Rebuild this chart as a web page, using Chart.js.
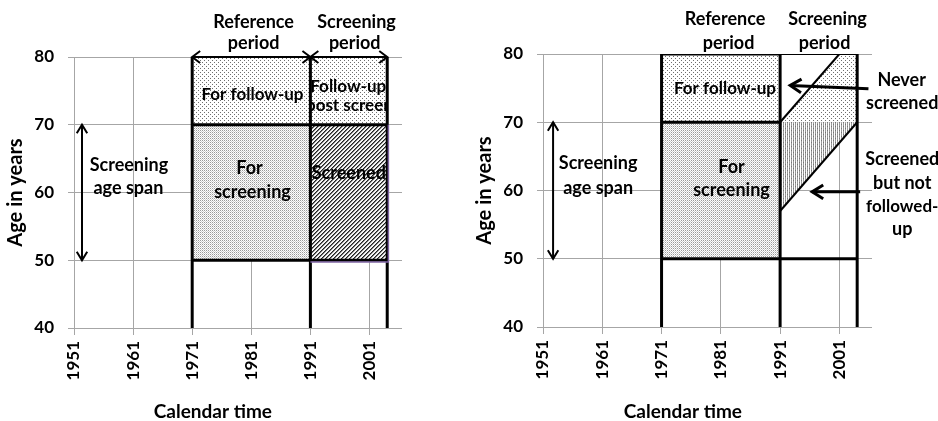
<!DOCTYPE html>
<html>
<head>
<meta charset="utf-8">
<script src="https://cdn.jsdelivr.net/npm/chart.js"></script>
<style>
  html, body { margin: 0; padding: 0; background: #fff; }
  .panel { position: absolute; top: 0; width: 469px; height: 421px; }
</style>
</head>
<body>
<div class="panel" style="left:0"><canvas id="left" width="469" height="421"></canvas></div>
<div class="panel" style="left:469px"><canvas id="right" width="469" height="421"></canvas></div>

<script>
// axis ticks and ranges
const yearTicks = [1951, 1961, 1971, 1981, 1991, 2001];
const ageTicks = [40, 50, 60, 70, 80];
const yearRange = [1951, 2006.5];

// study design: reference start, screening start, end of follow-up
const periodYears = [1971, 1991, 2004];
// screening age span and top of follow-up
const spanAges = [50, 70];
const topAge = 80;
// birth cohort lines in the screening period (right panel)
const neverCohort = [[1991, 70], [2001, 80]];
const notFollowedCohort = [[1991, 57], [2004, 70]];

const [refStart, scrStart, scrEnd] = periodYears;
const [ageLow, ageHigh] = spanAges;
const bottomAge = ageTicks[0];

function rect(x0, x1, y0, y1) {
  return [[x0, y0], [x1, y0], [x1, y1], [x0, y1]];
}

const FONT = 'Lato, "Open Sans", sans-serif';

function makePatterns(ctx) {
  function pat(w, h, bg, draw) {
    const c = document.createElement('canvas');
    c.width = w; c.height = h;
    const g = c.getContext('2d');
    if (bg) { g.fillStyle = bg; g.fillRect(0, 0, w, h); }
    draw(g);
    return ctx.createPattern(c, 'repeat');
  }
  return {
    sparse: pat(4, 4, '#fff', g => {
      g.fillStyle = '#6e6e6e';
      g.fillRect(0, 0, 1, 1);
      g.fillRect(2, 2, 1, 1);
    }),
    dense: pat(2, 2, '#fff', g => {
      g.fillStyle = '#9a9a9a';
      g.fillRect(0, 0, 1, 1);
      g.fillStyle = '#cfcfcf';
      g.fillRect(1, 1, 1, 1);
    }),
    diag: pat(4, 4, '#f4f4f4', g => {
      for (let i = 0; i < 4; i++) {
        g.fillStyle = '#222';
        g.fillRect(i, 3 - i, 1, 1);
        g.fillStyle = '#777';
        g.fillRect(i, (4 - i) % 4, 1, 1);
      }
    }),
    vert: pat(2, 1, null, g => {
      g.fillStyle = 'rgba(120,120,120,0.75)';
      g.fillRect(0, 0, 1, 1);
    })
  };
}

function drawArrow(ctx, x1, y1, x2, y2, both, width, len, ang) {
  ctx.save();
  ctx.strokeStyle = '#000';
  ctx.lineWidth = width;
  ctx.lineCap = 'butt';
  ctx.beginPath();
  ctx.moveTo(x1, y1);
  ctx.lineTo(x2, y2);
  ctx.stroke();
  const head = (tx, ty, fx, fy) => {
    const a = Math.atan2(ty - fy, tx - fx);
    ctx.beginPath();
    ctx.moveTo(tx - len * Math.cos(a - ang), ty - len * Math.sin(a - ang));
    ctx.lineTo(tx, ty);
    ctx.lineTo(tx - len * Math.cos(a + ang), ty - len * Math.sin(a + ang));
    ctx.stroke();
  };
  head(x2, y2, x1, y1);
  if (both) head(x1, y1, x2, y2);
  ctx.restore();
}

const shapes = {
  id: 'shapes',
  beforeDatasetsDraw(chart, args, opts) {
    const { ctx, scales: { x, y } } = chart;
    if (!chart.$patterns) chart.$patterns = makePatterns(ctx);
    const p = chart.$patterns;
    ctx.save();
    opts.regions.forEach(r => {
      ctx.beginPath();
      r.pts.forEach(([a, b], i) => {
        const px = x.getPixelForValue(a), py = y.getPixelForValue(b);
        if (i) ctx.lineTo(px, py); else ctx.moveTo(px, py);
      });
      ctx.closePath();
      r.fills.forEach(f => { ctx.fillStyle = p[f]; ctx.fill(); });
    });
    ctx.restore();
  },
  afterDatasetsDraw(chart, args, opts) {
    const { ctx, scales: { x, y } } = chart;
    opts.arrows.forEach(a => {
      drawArrow(ctx, x.getPixelForValue(a.from[0]), y.getPixelForValue(a.from[1]),
        x.getPixelForValue(a.to[0]), y.getPixelForValue(a.to[1]),
        a.both, a.width, a.len, a.ang);
    });
    ctx.save();
    ctx.fillStyle = '#000';
    ctx.textAlign = 'center';
    ctx.textBaseline = 'middle';
    opts.labels.forEach(l => {
      ctx.save();
      if (l.clip) {
        ctx.beginPath();
        l.clip.forEach(([a, b], i) => {
          const px = x.getPixelForValue(a), py = y.getPixelForValue(b);
          if (i) ctx.lineTo(px, py); else ctx.moveTo(px, py);
        });
        ctx.closePath();
        ctx.clip();
      }
      ctx.font = 'bold ' + (l.size || 18) + 'px ' + FONT;
      ctx.fillText(l.t, x.getPixelForValue(l.x), y.getPixelForValue(l.y));
      ctx.restore();
    });
    ctx.restore();
  }
};

function seg(pts, width, color) {
  return {
    data: pts.map(([a, b]) => ({ x: a, y: b })),
    showLine: true,
    borderColor: color || '#000',
    borderWidth: width,
    pointRadius: 0,
    fill: false,
    tension: 0
  };
}

function makeChart(id, cfg) {
  new Chart(document.getElementById(id), {
    type: 'scatter',
    data: { datasets: cfg.lines },
    options: {
      responsive: false,
      animation: false,
      devicePixelRatio: 1,
      layout: { padding: { top: cfg.top, right: cfg.right, left: 0, bottom: 0 } },
      plugins: {
        legend: { display: false },
        tooltip: { enabled: false },
        shapes: { regions: cfg.regions, arrows: cfg.arrows, labels: cfg.labels }
      },
      scales: {
        x: {
          type: 'linear',
          min: yearRange[0],
          max: yearRange[1],
          afterBuildTicks: s => { s.ticks = yearTicks.map(v => ({ value: v })); },
          afterFit: s => { s.height = cfg.xHeight; },
          ticks: {
            minRotation: 90, maxRotation: 90, padding: 6, color: '#000',
            autoSkip: false,
            font: { family: FONT, weight: 'bold', size: 17 },
            callback: v => String(v)
          },
          grid: { color: '#a6a6a6', tickLength: 7 },
          border: { display: false }
        },
        y: {
          min: ageTicks[0],
          max: ageTicks[ageTicks.length - 1],
          afterBuildTicks: s => { s.ticks = ageTicks.map(v => ({ value: v })); },
          afterFit: s => { s.width = 74; },
          ticks: {
            padding: 14, color: '#000',
            font: { family: FONT, weight: 'bold', size: 17 },
            callback: v => String(v)
          },
          grid: { color: '#a6a6a6', tickLength: 6 },
          border: { display: false },
          title: {
            display: true, text: 'Age in years', color: '#000',
            font: { family: FONT, weight: 'bold', size: 20 },
            padding: { top: 4, bottom: 0 }
          }
        }
      }
    },
    plugins: [shapes]
  });
}

// left panel: rectangular follow-up
const leftScreened = rect(scrStart, scrEnd, ageLow, ageHigh);
const leftPost = rect(scrStart, scrEnd, ageHigh, topAge);
makeChart('left', {
  top: 57, right: 67, xHeight: 93,
  regions: [
    { pts: rect(refStart, scrStart, ageHigh, topAge), fills: ['sparse'] },
    { pts: rect(refStart, scrStart, ageLow, ageHigh), fills: ['dense'] },
    { pts: leftPost, fills: ['sparse'] },
    { pts: leftScreened, fills: ['diag'] }
  ],
  lines: [
    seg([[scrStart, ageLow - 0.25], [scrEnd + 0.2, ageLow - 0.25], [scrEnd + 0.2, ageHigh]], 1.5, '#7f64a2'),
    seg([[refStart, bottomAge], [refStart, topAge]], 3),
    seg([[scrStart, bottomAge], [scrStart, topAge]], 3),
    seg([[scrEnd, bottomAge], [scrEnd, topAge]], 3),
    seg([[refStart, ageHigh], [scrEnd, ageHigh]], 3),
    seg([[refStart, ageLow], [scrEnd, ageLow]], 3)
  ],
  arrows: [
    { from: [refStart, topAge], to: [scrStart, topAge], both: true, width: 2, len: 10, ang: 0.65 },
    { from: [scrStart, topAge], to: [scrEnd, topAge], both: true, width: 2, len: 10, ang: 0.65 },
    { from: [1952.35, ageLow], to: [1952.35, ageHigh], both: true, width: 2, len: 10, ang: 0.55 }
  ],
  labels: [
    { t: 'Screening', x: 1960.3, y: 64.1 },
    { t: 'age span', x: 1960.2, y: 60.6 },
    { t: 'Calendar time', x: 1974.5, y: 27.6, size: 19 },
    { t: 'Reference', x: 1981.4, y: 85.2 },
    { t: 'period', x: 1981.4, y: 82.1 },
    { t: 'Screening', x: 1998.8, y: 85.2 },
    { t: 'period', x: 1998.5, y: 82.1 },
    { t: 'For follow-up', x: 1981.2, y: 74.5, size: 17 },
    { t: 'For', x: 1980.7, y: 63.6 },
    { t: 'screening', x: 1981.2, y: 60.1 },
    { t: 'Follow-up', x: 1997.4, y: 75.6, size: 17, clip: leftPost },
    { t: 'post screen', x: 1997.6, y: 72.8, size: 17, clip: leftPost },
    { t: 'Screened', x: 1997.5, y: 62.9, clip: leftScreened }
  ]
});

// right panel: cohort-based follow-up
makeChart('right', {
  top: 54, right: 66, xHeight: 94,
  regions: [
    { pts: rect(refStart, scrStart, ageHigh, topAge), fills: ['sparse'] },
    { pts: rect(refStart, scrStart, ageLow, ageHigh), fills: ['dense'] },
    { pts: [neverCohort[0], neverCohort[1], [scrEnd, topAge], [scrEnd, ageHigh]], fills: ['sparse'] },
    { pts: [notFollowedCohort[0], neverCohort[0], notFollowedCohort[1]], fills: ['sparse', 'vert'] }
  ],
  lines: [
    seg([[refStart, bottomAge], [refStart, topAge]], 3),
    seg([[scrStart, bottomAge], [scrStart, topAge]], 3),
    seg([[scrEnd, bottomAge], [scrEnd, topAge]], 3),
    seg([[refStart, topAge], [scrStart, topAge]], 3),
    seg([[scrStart, topAge], [scrEnd, topAge]], 2),
    seg([[refStart, ageHigh], [scrStart, ageHigh]], 3),
    seg([[refStart, ageLow], [scrEnd, ageLow]], 3),
    seg(neverCohort, 2),
    seg(notFollowedCohort, 2)
  ],
  arrows: [
    { from: [1952.7, ageLow], to: [1952.7, ageHigh], both: true, width: 2, len: 10, ang: 0.55 },
    { from: [2005.9, 74.9], to: [1992.7, 75.4], both: false, width: 3, len: 13, ang: 0.55 },
    { from: [2004.5, 59.8], to: [1996.4, 59.8], both: false, width: 3, len: 13, ang: 0.55 }
  ],
  labels: [
    { t: 'Screening', x: 1960.3, y: 64.0 },
    { t: 'age span', x: 1960.3, y: 60.4 },
    { t: 'Calendar time', x: 1974.6, y: 27.5, size: 19 },
    { t: 'Reference', x: 1981.7, y: 85.1 },
    { t: 'period', x: 1982.3, y: 81.6 },
    { t: 'Screening', x: 1999.0, y: 85.1 },
    { t: 'period', x: 1998.5, y: 81.6 },
    { t: 'For follow-up', x: 1981.7, y: 75.0, size: 17 },
    { t: 'For', x: 1982.8, y: 63.4 },
    { t: 'screening', x: 1982.8, y: 60.1 },
    { t: 'Never', x: 2011.5, y: 76.2 },
    { t: 'screened', x: 2011.6, y: 72.8 },
    { t: 'Screened', x: 2011.6, y: 64.6 },
    { t: 'but not', x: 2011.6, y: 61.1 },
    { t: 'followed-', x: 2011.6, y: 57.6, size: 17 },
    { t: 'up', x: 2011.6, y: 54.4 }
  ]
});
</script>
</body>
</html>
